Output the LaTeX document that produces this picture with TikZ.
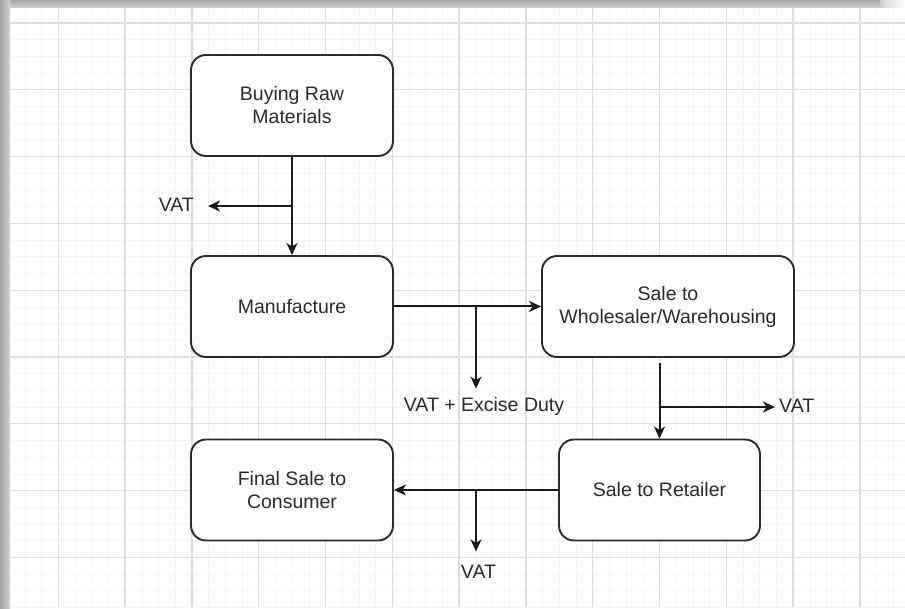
\documentclass[tikz,border=0pt]{standalone}
\usepackage{fontspec}
\setmainfont{Liberation Sans}
\usetikzlibrary{arrows.meta,calc}
\definecolor{ink}{HTML}{2A2A2A}
\definecolor{wire}{HTML}{1A1A1A}
\definecolor{gmajor}{HTML}{DEDEDE}
\definecolor{gminor}{HTML}{F6F6F6}
\tikzset{
  box/.style={draw=ink, line width=1.9pt, rounded corners=15pt, fill=white,
    text=ink, align=center, inner sep=0pt,
    font=\fontsize{19.5}{23}\selectfont},
  lbl/.style={text=ink, inner sep=0pt, font=\fontsize{19.5}{23}\selectfont},
  arr/.style={draw=wire, line width=2pt, -{Stealth[length=12pt,width=11pt,inset=3.5pt]}},
}
\begin{document}
\begin{tikzpicture}[x=1pt,y=-1pt]
\useasboundingbox (0,0) rectangle (905,609);
% background frame
\fill[white] (0,0) rectangle (905,609);
\fill[top color=gray!70, bottom color=gray!35] (0,0) rectangle (892,8);
\fill[left color=gray!70, right color=gray!35] (0,0) rectangle (10,609);
\fill[left color=gray!35, right color=white] (880,0) rectangle (905,8);
% grid
\begin{scope}
\clip (10,8) rectangle (905,607);
\foreach \i in {-3,...,53} {
  \draw[gminor, line width=0.7pt] ({8.25+16.7*\i},8) -- ({8.25+16.7*\i},607);
  \draw[gminor, line width=0.7pt] (10,{6.3+16.7*\i}) -- (905,{6.3+16.7*\i});
}
\foreach \i in {-1,...,13} {
  \draw[gmajor, line width=1.3pt] ({58.3+66.8*\i},8) -- ({58.3+66.8*\i},607);
  \draw[gmajor, line width=1.3pt] (10,{23+66.8*\i}) -- (905,{23+66.8*\i});
}
\end{scope}
% boxes
\node[box, minimum width=202pt, minimum height=101pt] (b1) at (292,105.5) {Buying Raw\\Materials};
\node[box, minimum width=202pt, minimum height=101pt] (b2) at (292,306.5) {Manufacture};
\node[box, minimum width=252pt, minimum height=101pt] (b3) at (668,306.5) {Sale to\\Wholesaler/Warehousing};
\node[box, minimum width=201pt, minimum height=101pt] (b4) at (659.5,490) {Sale to Retailer};
\node[box, minimum width=202pt, minimum height=101pt] (b5) at (292,490) {Final Sale to\\Consumer};
% labels
\node[lbl, anchor=base east] (vat1) at (194,212) {VAT};
\node[lbl, anchor=base] (exc) at (484,412) {VAT + Excise Duty};
\node[lbl, anchor=base west] (vat2) at (779,413) {VAT};
\node[lbl, anchor=base] (vat3) at (478.5,578) {VAT};
% junctions
\coordinate (j1) at (292,206);
\coordinate (j2) at (476,306.5);
\coordinate (j3) at (659.5,407);
\coordinate (j4) at (476,490);
% connectors
\draw[arr] (b1.south) -- (b2.north);
\draw[arr] (j1) -- ([xshift=14pt]j1 -| vat1.east);
\draw[arr] (b2.east) -- (b3.west);
\draw[arr] (j2) -- ([yshift=9pt]j2 |- exc.north);
\draw[arr] ([yshift=-5pt]b3.south -| b4.north) -- (b4.north);
\draw[arr] (j3) -- ([xshift=-4pt]j3 -| vat2.west);
\draw[arr] (b4.west) -- (b5.east);
\draw[arr] (j4) -- ([yshift=13pt]j4 |- vat3.north);
\end{tikzpicture}
\end{document}
